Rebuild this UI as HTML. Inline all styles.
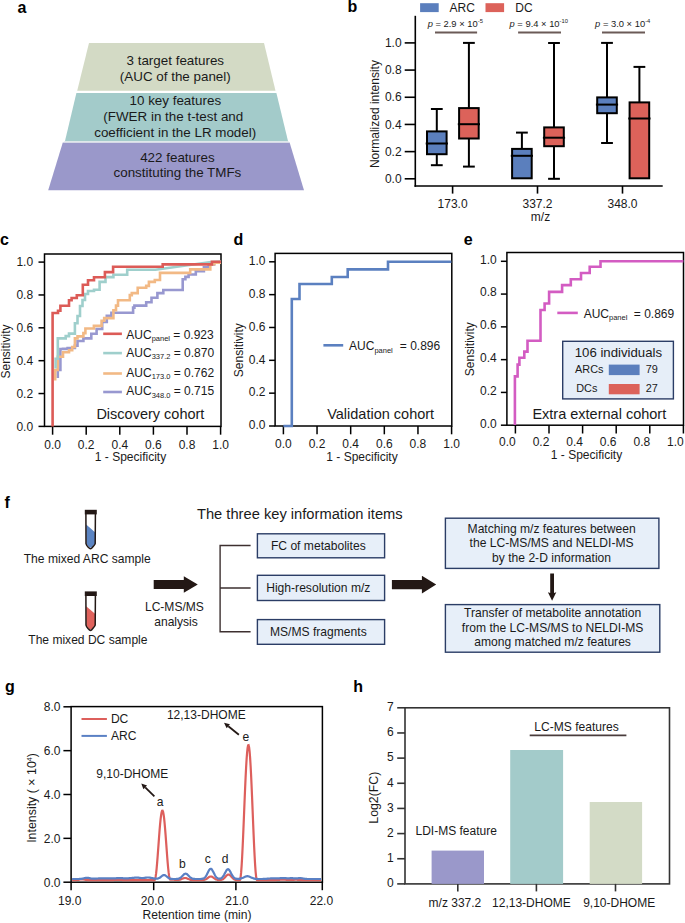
<!DOCTYPE html>
<html><head><meta charset="utf-8"><style>
html,body{margin:0;padding:0;background:#fff;}
body{width:685px;height:923px;overflow:hidden;}
svg{display:block;}
svg text{font-family:"Liberation Sans",sans-serif;}
</style></head><body>
<svg width="685" height="923" viewBox="0 0 685 923">
<rect width="685" height="923" fill="#fff"/>
<text x="17.5" y="12.7" font-size="16" text-anchor="start" font-weight="bold" fill="#000" >a</text>
<text x="347.5" y="12.3" font-size="16" text-anchor="start" font-weight="bold" fill="#000" >b</text>
<text x="0" y="245.1" font-size="16" text-anchor="start" font-weight="bold" fill="#000" >c</text>
<text x="233.4" y="245.1" font-size="16" text-anchor="start" font-weight="bold" fill="#000" >d</text>
<text x="463.8" y="245.1" font-size="16" text-anchor="start" font-weight="bold" fill="#000" >e</text>
<text x="4.4" y="507.5" font-size="16" text-anchor="start" font-weight="bold" fill="#000" >f</text>
<text x="4.9" y="691.9" font-size="16" text-anchor="start" font-weight="bold" fill="#000" >g</text>
<text x="353.3" y="691.5" font-size="16" text-anchor="start" font-weight="bold" fill="#000" >h</text>
<polygon points="89,43 264,43 275.5,90.7 77.2,90.7" fill="#d3dac5"/>
<polygon points="76.4,93 276.4,93 288,141 65,141" fill="#a3cbca"/>
<polygon points="62.8,142.6 289.6,142.6 304,190.2 48.2,190.2" fill="#9a98ca"/>
<polygon points="65,141 288,141 289.6,142.6 62.8,142.6" fill="#dfe8ea"/>
<text x="175.3" y="64.8" font-size="13.4" text-anchor="middle" font-weight="normal" fill="#1a1a1a" >3 target features</text>
<text x="175.3" y="80.8" font-size="13.4" text-anchor="middle" font-weight="normal" fill="#1a1a1a" >(AUC of the panel)</text>
<text x="175.3" y="105.1" font-size="13.4" text-anchor="middle" font-weight="normal" fill="#1a1a1a" >10 key features</text>
<text x="173.3" y="121.1" font-size="13.4" text-anchor="middle" font-weight="normal" fill="#1a1a1a" >(FWER in the t-test and</text>
<text x="175.2" y="136.8" font-size="13.4" text-anchor="middle" font-weight="normal" fill="#1a1a1a" >coefficient in the LR model)</text>
<text x="177.4" y="161.7" font-size="13.4" text-anchor="middle" font-weight="normal" fill="#1a1a1a" >422 features</text>
<text x="177.4" y="177.4" font-size="13.4" text-anchor="middle" font-weight="normal" fill="#1a1a1a" >constituting the TMFs</text>
<rect x="420.1" y="3.2" width="18.6" height="8.9" fill="#5b7fbd"/>
<text x="449.6" y="12" font-size="12" text-anchor="start" font-weight="normal" fill="#1a1a1a" >ARC</text>
<rect x="485.5" y="3.2" width="18.6" height="8.9" fill="#dc625a"/>
<text x="515.3" y="12" font-size="12" text-anchor="start" font-weight="normal" fill="#1a1a1a" >DC</text>
<line x1="415.3" y1="15.8" x2="415.3" y2="186.8" stroke="#000" stroke-width="1.6" />
<line x1="414.5" y1="186" x2="662.7" y2="186" stroke="#000" stroke-width="1.6" />
<line x1="404.7" y1="178.8" x2="415.3" y2="178.8" stroke="#000" stroke-width="1.6" />
<text x="401.6" y="183.0" font-size="12" text-anchor="end" font-weight="normal" fill="#1a1a1a" >0.0</text>
<line x1="404.7" y1="151.62" x2="415.3" y2="151.62" stroke="#000" stroke-width="1.6" />
<text x="401.6" y="155.82" font-size="12" text-anchor="end" font-weight="normal" fill="#1a1a1a" >0.2</text>
<line x1="404.7" y1="124.44" x2="415.3" y2="124.44" stroke="#000" stroke-width="1.6" />
<text x="401.6" y="128.64" font-size="12" text-anchor="end" font-weight="normal" fill="#1a1a1a" >0.4</text>
<line x1="404.7" y1="97.26" x2="415.3" y2="97.26" stroke="#000" stroke-width="1.6" />
<text x="401.6" y="101.46000000000001" font-size="12" text-anchor="end" font-weight="normal" fill="#1a1a1a" >0.6</text>
<line x1="404.7" y1="70.08" x2="415.3" y2="70.08" stroke="#000" stroke-width="1.6" />
<text x="401.6" y="74.28" font-size="12" text-anchor="end" font-weight="normal" fill="#1a1a1a" >0.8</text>
<line x1="404.7" y1="42.900000000000006" x2="415.3" y2="42.900000000000006" stroke="#000" stroke-width="1.6" />
<text x="401.6" y="47.10000000000001" font-size="12" text-anchor="end" font-weight="normal" fill="#1a1a1a" >1.0</text>
<line x1="452.6" y1="186" x2="452.6" y2="193.6" stroke="#000" stroke-width="1.6" />
<text x="452.6" y="207.9" font-size="12" text-anchor="middle" font-weight="normal" fill="#1a1a1a" >173.0</text>
<line x1="537.5" y1="186" x2="537.5" y2="193.6" stroke="#000" stroke-width="1.6" />
<text x="537.5" y="207.9" font-size="12" text-anchor="middle" font-weight="normal" fill="#1a1a1a" >337.2</text>
<line x1="622.5" y1="186" x2="622.5" y2="193.6" stroke="#000" stroke-width="1.6" />
<text x="622.5" y="207.9" font-size="12" text-anchor="middle" font-weight="normal" fill="#1a1a1a" >348.0</text>
<text x="540.5" y="221.4" font-size="12" text-anchor="middle" font-weight="normal" fill="#1a1a1a" >m/z</text>
<text x="0" y="0" font-size="12" text-anchor="middle" fill="#1a1a1a" transform="translate(378.7,114.1) rotate(-90)">Normalized intensity</text>
<line x1="435" y1="32.6" x2="477.1" y2="32.6" stroke="#6b5a57" stroke-width="2" />
<text x="455.25" y="27.1" font-size="9.4" text-anchor="middle" fill="#1a1a1a"><tspan font-style="italic">p</tspan> = 2.9 × 10<tspan font-size="5.8" dy="-4.2">-5</tspan></text>
<line x1="518.1" y1="32.6" x2="561" y2="32.6" stroke="#6b5a57" stroke-width="2" />
<text x="538.75" y="27.1" font-size="9.4" text-anchor="middle" fill="#1a1a1a"><tspan font-style="italic">p</tspan> = 9.4 × 10<tspan font-size="5.8" dy="-4.2">-10</tspan></text>
<line x1="602" y1="32.6" x2="645" y2="32.6" stroke="#6b5a57" stroke-width="2" />
<text x="622.7" y="27.1" font-size="9.4" text-anchor="middle" fill="#1a1a1a"><tspan font-style="italic">p</tspan> = 3.0 × 10<tspan font-size="5.8" dy="-4.2">-4</tspan></text>
<line x1="436.8" y1="109" x2="436.8" y2="131.4" stroke="#000" stroke-width="2" />
<line x1="430.90000000000003" y1="109" x2="442.7" y2="109" stroke="#000" stroke-width="2" />
<line x1="436.8" y1="154.2" x2="436.8" y2="165.2" stroke="#000" stroke-width="2" />
<line x1="430.90000000000003" y1="165.2" x2="442.7" y2="165.2" stroke="#000" stroke-width="2" />
<rect x="427.0" y="131.4" width="19.6" height="22.799999999999983" fill="#5b7fbd" stroke="#000" stroke-width="2"/>
<line x1="425.7" y1="143.5" x2="447.90000000000003" y2="143.5" stroke="#000" stroke-width="2" />
<line x1="468.9" y1="42.9" x2="468.9" y2="108.1" stroke="#000" stroke-width="2" />
<line x1="463.0" y1="42.9" x2="474.79999999999995" y2="42.9" stroke="#000" stroke-width="2" />
<line x1="468.9" y1="138.5" x2="468.9" y2="166.6" stroke="#000" stroke-width="2" />
<line x1="463.0" y1="166.6" x2="474.79999999999995" y2="166.6" stroke="#000" stroke-width="2" />
<rect x="459.09999999999997" y="108.1" width="19.6" height="30.400000000000006" fill="#dc625a" stroke="#000" stroke-width="2"/>
<line x1="457.79999999999995" y1="124.2" x2="480.0" y2="124.2" stroke="#000" stroke-width="2" />
<line x1="521.9" y1="132.6" x2="521.9" y2="148.9" stroke="#000" stroke-width="2" />
<line x1="516.0" y1="132.6" x2="527.8" y2="132.6" stroke="#000" stroke-width="2" />
<rect x="512.1" y="148.9" width="19.6" height="29.400000000000006" fill="#5b7fbd" stroke="#000" stroke-width="2"/>
<line x1="510.8" y1="155.8" x2="532.9999999999999" y2="155.8" stroke="#000" stroke-width="2" />
<line x1="554.0" y1="43" x2="554.0" y2="127.4" stroke="#000" stroke-width="2" />
<line x1="548.1" y1="43" x2="559.9" y2="43" stroke="#000" stroke-width="2" />
<line x1="554.0" y1="146.2" x2="554.0" y2="178.8" stroke="#000" stroke-width="2" />
<line x1="548.1" y1="178.8" x2="559.9" y2="178.8" stroke="#000" stroke-width="2" />
<rect x="544.2" y="127.4" width="19.6" height="18.799999999999983" fill="#dc625a" stroke="#000" stroke-width="2"/>
<line x1="542.9000000000001" y1="137.7" x2="565.0999999999999" y2="137.7" stroke="#000" stroke-width="2" />
<line x1="607.0" y1="42.9" x2="607.0" y2="97.4" stroke="#000" stroke-width="2" />
<line x1="601.1" y1="42.9" x2="612.9" y2="42.9" stroke="#000" stroke-width="2" />
<line x1="607.0" y1="113.2" x2="607.0" y2="143" stroke="#000" stroke-width="2" />
<line x1="601.1" y1="143" x2="612.9" y2="143" stroke="#000" stroke-width="2" />
<rect x="597.2" y="97.4" width="19.6" height="15.799999999999997" fill="#5b7fbd" stroke="#000" stroke-width="2"/>
<line x1="595.9000000000001" y1="104.6" x2="618.0999999999999" y2="104.6" stroke="#000" stroke-width="2" />
<line x1="639.4" y1="66.9" x2="639.4" y2="102.4" stroke="#000" stroke-width="2" />
<line x1="633.5" y1="66.9" x2="645.3" y2="66.9" stroke="#000" stroke-width="2" />
<rect x="629.6" y="102.4" width="19.6" height="75.9" fill="#dc625a" stroke="#000" stroke-width="2"/>
<line x1="628.3000000000001" y1="118.5" x2="650.4999999999999" y2="118.5" stroke="#000" stroke-width="2" />
<rect x="44.5" y="254" width="176.5" height="172.39999999999998" fill="none" stroke="#000" stroke-width="1.5"/>
<line x1="38.5" y1="426.4" x2="44.5" y2="426.4" stroke="#000" stroke-width="1.5" />
<text x="33.1" y="430.7" font-size="12" text-anchor="end" font-weight="normal" fill="#1a1a1a" >0.0</text>
<line x1="38.5" y1="393.53999999999996" x2="44.5" y2="393.53999999999996" stroke="#000" stroke-width="1.5" />
<text x="33.1" y="397.84" font-size="12" text-anchor="end" font-weight="normal" fill="#1a1a1a" >0.2</text>
<line x1="38.5" y1="360.68" x2="44.5" y2="360.68" stroke="#000" stroke-width="1.5" />
<text x="33.1" y="364.98" font-size="12" text-anchor="end" font-weight="normal" fill="#1a1a1a" >0.4</text>
<line x1="38.5" y1="327.82" x2="44.5" y2="327.82" stroke="#000" stroke-width="1.5" />
<text x="33.1" y="332.12" font-size="12" text-anchor="end" font-weight="normal" fill="#1a1a1a" >0.6</text>
<line x1="38.5" y1="294.96000000000004" x2="44.5" y2="294.96000000000004" stroke="#000" stroke-width="1.5" />
<text x="33.1" y="299.26000000000005" font-size="12" text-anchor="end" font-weight="normal" fill="#1a1a1a" >0.8</text>
<line x1="38.5" y1="262.1" x2="44.5" y2="262.1" stroke="#000" stroke-width="1.5" />
<text x="33.1" y="266.40000000000003" font-size="12" text-anchor="end" font-weight="normal" fill="#1a1a1a" >1.0</text>
<line x1="52.6" y1="426.4" x2="52.6" y2="434.7" stroke="#000" stroke-width="1.5" />
<text x="52.6" y="448.59999999999997" font-size="12" text-anchor="middle" font-weight="normal" fill="#1a1a1a" >0.0</text>
<line x1="86.2" y1="426.4" x2="86.2" y2="434.7" stroke="#000" stroke-width="1.5" />
<text x="86.2" y="448.59999999999997" font-size="12" text-anchor="middle" font-weight="normal" fill="#1a1a1a" >0.2</text>
<line x1="119.80000000000001" y1="426.4" x2="119.80000000000001" y2="434.7" stroke="#000" stroke-width="1.5" />
<text x="119.80000000000001" y="448.59999999999997" font-size="12" text-anchor="middle" font-weight="normal" fill="#1a1a1a" >0.4</text>
<line x1="153.4" y1="426.4" x2="153.4" y2="434.7" stroke="#000" stroke-width="1.5" />
<text x="153.4" y="448.59999999999997" font-size="12" text-anchor="middle" font-weight="normal" fill="#1a1a1a" >0.6</text>
<line x1="187.0" y1="426.4" x2="187.0" y2="434.7" stroke="#000" stroke-width="1.5" />
<text x="187.0" y="448.59999999999997" font-size="12" text-anchor="middle" font-weight="normal" fill="#1a1a1a" >0.8</text>
<line x1="220.6" y1="426.4" x2="220.6" y2="434.7" stroke="#000" stroke-width="1.5" />
<text x="220.6" y="448.59999999999997" font-size="12" text-anchor="middle" font-weight="normal" fill="#1a1a1a" >1.0</text>
<text x="0" y="0" font-size="12" text-anchor="middle" fill="#1a1a1a" transform="translate(10.4,351.5) rotate(-90)">Sensitivity</text>
<text x="96.4" y="419.2" font-size="14.5" text-anchor="start" font-weight="normal" fill="#1a1a1a" >Discovery cohort</text>
<text x="94.8" y="461.2" font-size="12" text-anchor="start" font-weight="normal" fill="#1a1a1a" >1 - Specificity</text>
<polyline points="57.8,378.0 57.8,370.0 60.4,370.0 60.4,349.0 63.0,349.0 63.0,348.9 67.6,348.9 67.6,348.0 74.9,348.0 74.9,345.6 77.5,345.6 77.5,341.0 83.4,341.0 83.4,338.4 91.3,338.4 91.3,333.8 96.6,333.8 96.6,329.0 102.2,329.0 102.2,322.0 106.8,322.0 106.8,315.7 111.4,315.7 111.4,312.8 133.1,312.8 133.1,307.6 134.4,307.6 134.4,305.6 146.2,305.6 146.2,302.3 151.5,302.3 151.5,297.7 157.4,297.7 157.4,293.1 163.3,293.1 163.3,290.0 182.7,290.0 182.7,279.3 185.4,279.3 185.4,276.9 188.6,276.9 188.6,274.5 195.8,274.5 195.8,271.3 203.9,271.3 203.9,267.3 208.7,267.3 208.7,264.5 214.0,264.5 214.0,262.5 221.0,262.5" fill="none" stroke="#9898d0" stroke-width="2.6" stroke-linejoin="miter" />
<polyline points="55.2,380.5 55.2,370.0 57.8,370.0 57.8,356.8 63.0,356.8 63.0,352.2 69.0,352.2 69.0,350.2 72.2,350.2 72.2,347.0 74.9,347.0 74.9,338.4 77.5,338.4 77.5,336.4 83.4,336.4 83.4,333.1 85.4,333.1 85.4,328.5 93.9,328.5 93.9,325.9 101.6,325.9 101.6,320.7 104.2,320.7 104.2,318.1 113.4,318.1 113.4,310.2 116.0,310.2 116.0,305.6 118.0,305.6 118.0,300.3 129.8,300.3 129.8,295.1 131.8,295.1 131.8,293.1 137.7,293.1 137.7,287.8 146.2,287.8 146.2,285.9 148.9,285.9 148.9,281.9 154.8,281.9 154.8,280.0 160.0,280.0 160.0,272.9 190.2,272.9 190.2,269.4 210.3,269.4 210.3,264.1 214.3,264.1 214.3,262.8 221.0,262.8" fill="none" stroke="#f2b985" stroke-width="2.6" stroke-linejoin="miter" />
<polyline points="55.6,368.6 55.6,358.8 57.8,358.8 57.8,338.4 65.7,338.4 65.7,336.1 69.0,336.1 69.0,333.6 74.9,333.6 74.9,323.3 77.5,323.3 77.5,316.0 80.0,316.0 80.0,306.0 82.5,306.0 82.5,300.0 85.0,300.0 85.0,294.0 88.0,294.0 88.0,291.0 94.0,291.0 94.0,289.8 99.6,289.8 99.6,281.9 105.5,281.9 105.5,277.1 113.4,277.1 113.4,274.7 127.2,274.7 127.2,269.7 155.4,269.7 211.0,262.0 221.0,261.5" fill="none" stroke="#9fcfcc" stroke-width="2.6" stroke-linejoin="miter" />
<polyline points="52.6,426.4 52.6,313.0 58.0,313.0 58.0,310.7 60.4,310.7 60.4,305.8 69.0,305.8 69.0,300.2 71.6,300.2 71.6,298.0 76.8,298.0 76.8,295.3 82.8,295.3 82.8,284.8 88.0,284.8 88.0,280.2 94.0,280.2 94.0,277.2 104.9,277.2 104.9,272.1 113.1,272.1 113.1,266.8 162.7,266.8 162.7,264.4 211.9,264.4 211.9,261.7 221.0,261.7" fill="none" stroke="#dc5b57" stroke-width="2.6" stroke-linejoin="miter" />
<line x1="103.2" y1="333.8" x2="121.9" y2="333.8" stroke="#dc5b57" stroke-width="2.6" />
<text x="126.3" y="338.6" font-size="12" fill="#1a1a1a">AUC<tspan font-size="7.5" dy="2.8">panel</tspan><tspan dy="-2.8"> = 0.923</tspan></text>
<line x1="103.2" y1="353.1" x2="121.9" y2="353.1" stroke="#9fcfcc" stroke-width="2.6" />
<text x="126.3" y="356.6" font-size="12" fill="#1a1a1a">AUC<tspan font-size="7.5" dy="2.8">337.2</tspan><tspan dy="-2.8"> = 0.870</tspan></text>
<line x1="103.2" y1="373.5" x2="121.9" y2="373.5" stroke="#f2b985" stroke-width="2.6" />
<text x="126.3" y="376.5" font-size="12" fill="#1a1a1a">AUC<tspan font-size="7.5" dy="2.8">173.0</tspan><tspan dy="-2.8"> = 0.762</tspan></text>
<line x1="103.2" y1="392.0" x2="121.9" y2="392.0" stroke="#9898d0" stroke-width="2.6" />
<text x="126.3" y="394.7" font-size="12" fill="#1a1a1a">AUC<tspan font-size="7.5" dy="2.8">348.0</tspan><tspan dy="-2.8"> = 0.715</tspan></text>
<rect x="275.1" y="253.4" width="176.7" height="172.6" fill="none" stroke="#000" stroke-width="1.5"/>
<line x1="269.1" y1="426.0" x2="275.1" y2="426.0" stroke="#000" stroke-width="1.5" />
<text x="265.5" y="429.3" font-size="12" text-anchor="end" font-weight="normal" fill="#1a1a1a" >0.0</text>
<line x1="269.1" y1="393.16" x2="275.1" y2="393.16" stroke="#000" stroke-width="1.5" />
<text x="265.5" y="396.46000000000004" font-size="12" text-anchor="end" font-weight="normal" fill="#1a1a1a" >0.2</text>
<line x1="269.1" y1="360.32" x2="275.1" y2="360.32" stroke="#000" stroke-width="1.5" />
<text x="265.5" y="363.62" font-size="12" text-anchor="end" font-weight="normal" fill="#1a1a1a" >0.4</text>
<line x1="269.1" y1="327.48" x2="275.1" y2="327.48" stroke="#000" stroke-width="1.5" />
<text x="265.5" y="330.78000000000003" font-size="12" text-anchor="end" font-weight="normal" fill="#1a1a1a" >0.6</text>
<line x1="269.1" y1="294.64" x2="275.1" y2="294.64" stroke="#000" stroke-width="1.5" />
<text x="265.5" y="297.94" font-size="12" text-anchor="end" font-weight="normal" fill="#1a1a1a" >0.8</text>
<line x1="269.1" y1="261.8" x2="275.1" y2="261.8" stroke="#000" stroke-width="1.5" />
<text x="265.5" y="265.1" font-size="12" text-anchor="end" font-weight="normal" fill="#1a1a1a" >1.0</text>
<line x1="283.4" y1="426" x2="283.4" y2="434.3" stroke="#000" stroke-width="1.5" />
<text x="283.4" y="448.2" font-size="12" text-anchor="middle" font-weight="normal" fill="#1a1a1a" >0.0</text>
<line x1="317.03999999999996" y1="426" x2="317.03999999999996" y2="434.3" stroke="#000" stroke-width="1.5" />
<text x="317.03999999999996" y="448.2" font-size="12" text-anchor="middle" font-weight="normal" fill="#1a1a1a" >0.2</text>
<line x1="350.68" y1="426" x2="350.68" y2="434.3" stroke="#000" stroke-width="1.5" />
<text x="350.68" y="448.2" font-size="12" text-anchor="middle" font-weight="normal" fill="#1a1a1a" >0.4</text>
<line x1="384.32000000000005" y1="426" x2="384.32000000000005" y2="434.3" stroke="#000" stroke-width="1.5" />
<text x="384.32000000000005" y="448.2" font-size="12" text-anchor="middle" font-weight="normal" fill="#1a1a1a" >0.6</text>
<line x1="417.96000000000004" y1="426" x2="417.96000000000004" y2="434.3" stroke="#000" stroke-width="1.5" />
<text x="417.96000000000004" y="448.2" font-size="12" text-anchor="middle" font-weight="normal" fill="#1a1a1a" >0.8</text>
<line x1="451.6" y1="426" x2="451.6" y2="434.3" stroke="#000" stroke-width="1.5" />
<text x="451.6" y="448.2" font-size="12" text-anchor="middle" font-weight="normal" fill="#1a1a1a" >1.0</text>
<text x="0" y="0" font-size="12" text-anchor="middle" fill="#1a1a1a" transform="translate(242.6,350.2) rotate(-90)">Sensitivity</text>
<text x="327.2" y="419.2" font-size="14.5" text-anchor="start" font-weight="normal" fill="#1a1a1a" >Validation cohort</text>
<text x="326.3" y="460.8" font-size="12" text-anchor="start" font-weight="normal" fill="#1a1a1a" >1 - Specificity</text>
<polyline points="283.4,426.0 291.8,426.0 291.8,299.0 299.5,299.0 299.5,284.0 331.8,284.0 331.8,277.0 347.7,277.0 347.7,269.4 388.0,269.4 388.0,261.8 451.4,261.8" fill="none" stroke="#5b80c0" stroke-width="2.6" stroke-linejoin="miter" />
<line x1="323.4" y1="345.3" x2="343.2" y2="345.3" stroke="#5b80c0" stroke-width="2.6" />
<text x="349.1" y="349.9" font-size="12" fill="#1a1a1a">AUC<tspan font-size="7.5" dy="2.8">panel</tspan></text>
<text x="440.2" y="349.9" font-size="12" text-anchor="end" font-weight="normal" fill="#1a1a1a" >= 0.896</text>
<rect x="506.9" y="252.5" width="176.60000000000002" height="172.7" fill="none" stroke="#000" stroke-width="1.5"/>
<line x1="500.9" y1="425.2" x2="506.9" y2="425.2" stroke="#000" stroke-width="1.5" />
<text x="496.79999999999995" y="427.5" font-size="12" text-anchor="end" font-weight="normal" fill="#1a1a1a" >0.0</text>
<line x1="500.9" y1="392.42" x2="506.9" y2="392.42" stroke="#000" stroke-width="1.5" />
<text x="496.79999999999995" y="394.72" font-size="12" text-anchor="end" font-weight="normal" fill="#1a1a1a" >0.2</text>
<line x1="500.9" y1="359.64" x2="506.9" y2="359.64" stroke="#000" stroke-width="1.5" />
<text x="496.79999999999995" y="361.94" font-size="12" text-anchor="end" font-weight="normal" fill="#1a1a1a" >0.4</text>
<line x1="500.9" y1="326.86" x2="506.9" y2="326.86" stroke="#000" stroke-width="1.5" />
<text x="496.79999999999995" y="329.16" font-size="12" text-anchor="end" font-weight="normal" fill="#1a1a1a" >0.6</text>
<line x1="500.9" y1="294.08000000000004" x2="506.9" y2="294.08000000000004" stroke="#000" stroke-width="1.5" />
<text x="496.79999999999995" y="296.38000000000005" font-size="12" text-anchor="end" font-weight="normal" fill="#1a1a1a" >0.8</text>
<line x1="500.9" y1="261.3" x2="506.9" y2="261.3" stroke="#000" stroke-width="1.5" />
<text x="496.79999999999995" y="263.6" font-size="12" text-anchor="end" font-weight="normal" fill="#1a1a1a" >1.0</text>
<line x1="515.4" y1="425.2" x2="515.4" y2="433.5" stroke="#000" stroke-width="1.5" />
<text x="507.4" y="446.09999999999997" font-size="12" text-anchor="middle" font-weight="normal" fill="#1a1a1a" >0.0</text>
<line x1="549.0" y1="425.2" x2="549.0" y2="433.5" stroke="#000" stroke-width="1.5" />
<text x="541.0" y="446.09999999999997" font-size="12" text-anchor="middle" font-weight="normal" fill="#1a1a1a" >0.2</text>
<line x1="582.6" y1="425.2" x2="582.6" y2="433.5" stroke="#000" stroke-width="1.5" />
<text x="574.6" y="446.09999999999997" font-size="12" text-anchor="middle" font-weight="normal" fill="#1a1a1a" >0.4</text>
<line x1="616.2" y1="425.2" x2="616.2" y2="433.5" stroke="#000" stroke-width="1.5" />
<text x="608.2" y="446.09999999999997" font-size="12" text-anchor="middle" font-weight="normal" fill="#1a1a1a" >0.6</text>
<line x1="649.8" y1="425.2" x2="649.8" y2="433.5" stroke="#000" stroke-width="1.5" />
<text x="641.8" y="446.09999999999997" font-size="12" text-anchor="middle" font-weight="normal" fill="#1a1a1a" >0.8</text>
<line x1="683.4" y1="425.2" x2="683.4" y2="433.5" stroke="#000" stroke-width="1.5" />
<text x="675.4" y="446.09999999999997" font-size="12" text-anchor="middle" font-weight="normal" fill="#1a1a1a" >1.0</text>
<text x="0" y="0" font-size="12" text-anchor="middle" fill="#1a1a1a" transform="translate(474.3,349.2) rotate(-90)">Sensitivity</text>
<text x="532.4" y="419.2" font-size="14.5" text-anchor="start" font-weight="normal" fill="#1a1a1a" >Extra external cohort</text>
<text x="550.8" y="459.09999999999997" font-size="12" text-anchor="start" font-weight="normal" fill="#1a1a1a" >1 - Specificity</text>
<polyline points="514.9,425.1 514.9,376.4 517.6,376.4 517.6,364.6 519.4,364.6 519.4,357.8 524.3,357.8 524.3,351.6 527.5,351.6 527.5,340.8 540.5,340.8 540.5,310.0 544.6,310.0 544.6,303.5 549.1,303.5 549.1,291.9 562.1,291.9 562.1,285.1 570.8,285.1 570.8,279.2 581.0,279.2 581.0,273.0 589.7,273.0 589.7,266.7 600.5,266.7 600.5,261.3 683.4,261.3" fill="none" stroke="#d35cc2" stroke-width="2.6" stroke-linejoin="miter" />
<line x1="557.3" y1="312.9" x2="577.8" y2="312.9" stroke="#d35cc2" stroke-width="2.6" />
<text x="583.7" y="317.5" font-size="12" fill="#1a1a1a">AUC<tspan font-size="7.5" dy="2.8">panel</tspan></text>
<text x="674.2" y="317.5" font-size="12" text-anchor="end" font-weight="normal" fill="#1a1a1a" >= 0.869</text>
<rect x="562.7" y="341.3" width="110.7" height="57.6" fill="#e6eef8" stroke="#2b3d66" stroke-width="1.4"/>
<text x="618.4" y="357.3" font-size="13.2" text-anchor="middle" font-weight="normal" fill="#1a1a1a" >106 individuals</text>
<text x="575" y="373.2" font-size="10.9" text-anchor="start" font-weight="normal" fill="#1a1a1a" >ARCs</text>
<text x="576.2" y="391.6" font-size="10.9" text-anchor="start" font-weight="normal" fill="#1a1a1a" >DCs</text>
<rect x="608.8" y="364.6" width="30.8" height="10.5" fill="#5b7fbd"/>
<rect x="608.8" y="384" width="30.8" height="10.3" fill="#dc625a"/>
<text x="645.8" y="373.2" font-size="10.9" text-anchor="start" font-weight="normal" fill="#1a1a1a" >79</text>
<text x="645.8" y="391.6" font-size="10.9" text-anchor="start" font-weight="normal" fill="#1a1a1a" >27</text>
<path d="M86.2,524.6 L95,532.2 L95,543.6 L92.6,546.8 Q90.6,548.9 88.6,546.8 L86.2,543.6 Z" fill="#5b84c2"/>
<path d="M85.9,514.0 L86,543.6 Q86.3,545.0 88,547.0 L89.4,548.3 Q90.5,549.3 91.6,548.3 L93.4,546.2 Q95,544.6 95.2,543.6 L95.4,514.0" fill="none" stroke="#231815" stroke-width="1.5"/>
<rect x="84.8" y="509.8" width="12" height="4.6" fill="#231815"/>
<path d="M86.2,606.2 L95,613.8 L95,625.2 L92.6,628.3999999999999 Q90.6,630.5 88.6,628.3999999999999 L86.2,625.2 Z" fill="#df625c"/>
<path d="M85.9,595.5999999999999 L86,625.2 Q86.3,626.5999999999999 88,628.5999999999999 L89.4,629.8999999999999 Q90.5,630.8999999999999 91.6,629.8999999999999 L93.4,627.8 Q95,626.2 95.2,625.2 L95.4,595.5999999999999" fill="none" stroke="#231815" stroke-width="1.5"/>
<rect x="84.8" y="591.4" width="12" height="4.6" fill="#231815"/>
<text x="23.7" y="562.9" font-size="12.1" text-anchor="start" font-weight="normal" fill="#1a1a1a" >The mixed ARC sample</text>
<text x="28.3" y="644.1" font-size="12.05" text-anchor="start" font-weight="normal" fill="#1a1a1a" >The mixed DC sample</text>
<path d="M153.7,580.1 L183.8,580.1 L183.8,576.2 L197.8,584.5 L183.8,592.8 L183.8,588.9 L153.7,588.9 Z" fill="#231815"/>
<text x="174.4" y="610.8" font-size="12.05" text-anchor="middle" font-weight="normal" fill="#1a1a1a" >LC-MS/MS</text>
<text x="176" y="625.9" font-size="12.05" text-anchor="middle" font-weight="normal" fill="#1a1a1a" >analysis</text>
<text x="299.8" y="518.5" font-size="14.7" text-anchor="middle" font-weight="normal" fill="#1a1a1a" >The three key information items</text>
<path d="M250.6,545.5 L220.1,545.5 L220.1,631.8 L250.6,631.8 M220.1,588 L250.6,588" fill="none" stroke="#3d3030" stroke-width="1.4"/>
<rect x="257.4" y="533.8" width="127.2" height="24.0" fill="#e7eff9" stroke="#2b3d66" stroke-width="1.4"/>
<text x="318.3" y="550.0999999999999" font-size="12.1" text-anchor="middle" font-weight="normal" fill="#1a1a1a" >FC of metabolites</text>
<rect x="257.4" y="575.3" width="127.2" height="25.200000000000045" fill="#e7eff9" stroke="#2b3d66" stroke-width="1.4"/>
<text x="318.3" y="592.1999999999999" font-size="12.1" text-anchor="middle" font-weight="normal" fill="#1a1a1a" >High-resolution m/z</text>
<rect x="257.4" y="619.6" width="127.2" height="24.699999999999932" fill="#e7eff9" stroke="#2b3d66" stroke-width="1.4"/>
<text x="318.3" y="636.25" font-size="12.1" text-anchor="middle" font-weight="normal" fill="#1a1a1a" >MS/MS fragments</text>
<path d="M391.9,579.9 L421.9,579.9 L421.9,575.8000000000001 L436.2,584.6 L421.9,593.4 L421.9,589.3000000000001 L391.9,589.3000000000001 Z" fill="#231815"/>
<rect x="445.4" y="518.2" width="213.5" height="50.2" fill="#e7eff9" stroke="#2b3d66" stroke-width="1.4"/>
<rect x="445.4" y="604.6" width="214.4" height="47.6" fill="#e7eff9" stroke="#2b3d66" stroke-width="1.4"/>
<text x="551.6" y="532.7" font-size="12.1" text-anchor="middle" font-weight="normal" fill="#1a1a1a" >Matching m/z features between</text>
<text x="551.6" y="547.3" font-size="12.1" text-anchor="middle" font-weight="normal" fill="#1a1a1a" >the LC-MS/MS and NELDI-MS</text>
<text x="551.6" y="561.9" font-size="12.1" text-anchor="middle" font-weight="normal" fill="#1a1a1a" >by the 2-D information</text>
<text x="552.6" y="617" font-size="12.1" text-anchor="middle" font-weight="normal" fill="#1a1a1a" >Transfer of metabolite annotation</text>
<text x="552.6" y="631.5" font-size="12.1" text-anchor="middle" font-weight="normal" fill="#1a1a1a" >from the LC-MS/MS to NELDI-MS</text>
<text x="552.6" y="646.2" font-size="12.1" text-anchor="middle" font-weight="normal" fill="#1a1a1a" >among matched m/z features</text>
<path d="M550.2,573.4 L554,573.4 L554,593 L556.3,592.2 L552.1,600.8 L547.9,592.2 L550.2,593 Z" fill="#231815"/>
<rect x="71.1" y="706.6" width="251.29999999999998" height="175.60000000000002" fill="none" stroke="#000" stroke-width="1.5"/>
<line x1="63.4" y1="882.2" x2="71.1" y2="882.2" stroke="#000" stroke-width="1.5" />
<text x="60.4" y="886.5" font-size="12" text-anchor="end" font-weight="normal" fill="#1a1a1a" >0.0</text>
<line x1="63.4" y1="838.35" x2="71.1" y2="838.35" stroke="#000" stroke-width="1.5" />
<text x="60.4" y="842.65" font-size="12" text-anchor="end" font-weight="normal" fill="#1a1a1a" >2.0</text>
<line x1="63.4" y1="794.5" x2="71.1" y2="794.5" stroke="#000" stroke-width="1.5" />
<text x="60.4" y="798.8" font-size="12" text-anchor="end" font-weight="normal" fill="#1a1a1a" >4.0</text>
<line x1="63.4" y1="750.65" x2="71.1" y2="750.65" stroke="#000" stroke-width="1.5" />
<text x="60.4" y="754.9499999999999" font-size="12" text-anchor="end" font-weight="normal" fill="#1a1a1a" >6.0</text>
<line x1="63.4" y1="706.8" x2="71.1" y2="706.8" stroke="#000" stroke-width="1.5" />
<text x="60.4" y="711.0999999999999" font-size="12" text-anchor="end" font-weight="normal" fill="#1a1a1a" >8.0</text>
<line x1="71.1" y1="882.2" x2="71.1" y2="890.2" stroke="#000" stroke-width="1.5" />
<text x="69.7" y="905" font-size="12" text-anchor="middle" font-weight="normal" fill="#1a1a1a" >19.0</text>
<line x1="153.7" y1="882.2" x2="153.7" y2="890.2" stroke="#000" stroke-width="1.5" />
<text x="152.5" y="905" font-size="12" text-anchor="middle" font-weight="normal" fill="#1a1a1a" >20.0</text>
<line x1="235.9" y1="882.2" x2="235.9" y2="890.2" stroke="#000" stroke-width="1.5" />
<text x="237" y="905" font-size="12" text-anchor="middle" font-weight="normal" fill="#1a1a1a" >21.0</text>
<line x1="322.3" y1="882.2" x2="322.3" y2="890.2" stroke="#000" stroke-width="1.5" />
<text x="321.4" y="905" font-size="12" text-anchor="middle" font-weight="normal" fill="#1a1a1a" >22.0</text>
<text x="197" y="918.5" font-size="12.1" text-anchor="middle" font-weight="normal" fill="#1a1a1a" >Retention time (min)</text>
<text x="0" y="0" font-size="12.4" text-anchor="middle" fill="#1a1a1a" transform="translate(36,798) rotate(-90)">Intensity ( × 10<tspan font-size="7" dy="-4">4</tspan><tspan dy="4">)</tspan></text>
<polyline points="72.1,880.2 72.6,880.2 73.1,880.2 73.6,880.2 74.1,880.2 74.6,880.2 75.1,880.1 75.6,880.1 76.1,880.1 76.6,880.0 77.1,880.0 77.6,879.9 78.1,879.9 78.6,879.8 79.1,879.7 79.6,879.6 80.1,879.5 80.6,879.5 81.1,879.4 81.6,879.4 82.1,879.4 82.6,879.4 83.1,879.5 83.6,879.5 84.1,879.6 84.6,879.7 85.1,879.7 85.6,879.8 86.1,879.9 86.6,880.0 87.1,880.0 87.6,880.1 88.1,880.1 88.6,880.1 89.1,880.2 89.6,880.2 90.1,880.2 90.6,880.2 91.1,880.2 91.6,880.2 92.1,880.2 92.6,880.2 93.1,880.2 93.6,880.2 94.1,880.2 94.6,880.2 95.1,880.2 95.6,880.2 96.1,880.2 96.6,880.2 97.1,880.2 97.6,880.2 98.1,880.2 98.6,880.2 99.1,880.2 99.6,880.2 100.1,880.2 100.6,880.2 101.1,880.2 101.6,880.2 102.1,880.2 102.6,880.2 103.1,880.2 103.6,880.2 104.1,880.2 104.6,880.2 105.1,880.2 105.6,880.2 106.1,880.2 106.6,880.2 107.1,880.2 107.6,880.2 108.1,880.2 108.6,880.2 109.1,880.2 109.6,880.2 110.1,880.2 110.6,880.2 111.1,880.2 111.6,880.2 112.1,880.1 112.6,880.1 113.1,880.1 113.6,880.1 114.1,880.0 114.6,880.0 115.1,879.9 115.6,879.9 116.1,879.9 116.6,879.8 117.1,879.8 117.6,879.8 118.1,879.8 118.6,879.8 119.1,879.8 119.6,879.9 120.1,879.9 120.6,879.9 121.1,880.0 121.6,880.0 122.1,880.0 122.6,880.1 123.1,880.1 123.6,880.1 124.1,880.1 124.6,880.2 125.1,880.2 125.6,880.2 126.1,880.2 126.6,880.2 127.1,880.2 127.6,880.2 128.1,880.2 128.6,880.2 129.1,880.2 129.6,880.2 130.1,880.2 130.6,880.2 131.1,880.2 131.6,880.2 132.1,880.2 132.6,880.2 133.1,880.2 133.6,880.2 134.1,880.2 134.6,880.2 135.1,880.2 135.6,880.2 136.1,880.2 136.6,880.2 137.1,880.2 137.6,880.2 138.1,880.2 138.6,880.2 139.1,880.2 139.6,880.2 140.1,880.2 140.6,880.2 141.1,880.2 141.6,880.2 142.1,880.2 142.6,880.2 143.1,880.2 143.6,880.2 144.1,880.2 144.6,880.2 145.1,880.2 145.6,880.2 146.1,880.2 146.6,880.2 147.1,880.2 147.6,880.2 148.1,880.2 148.6,880.2 149.1,880.2 149.6,880.2 150.1,880.2 150.6,880.2 151.1,880.2 151.6,880.2 152.1,880.2 152.6,880.2 153.1,880.2 153.6,880.2 154.1,880.2 154.6,880.2 155.1,879.2 155.6,876.9 156.1,873.4 156.6,868.8 157.1,863.2 157.6,856.9 158.1,850.2 158.6,843.3 159.1,836.5 159.6,830.0 160.1,824.2 160.6,819.1 161.1,815.1 161.6,812.3 162.1,810.8 162.6,810.7 163.1,811.9 163.6,814.5 164.1,818.2 164.6,823.1 165.1,828.8 165.6,835.1 166.1,841.9 166.6,848.7 167.1,855.5 167.6,861.8 168.1,867.5 168.6,872.2 169.1,875.9 169.6,878.4 170.1,879.6 170.6,879.7 171.1,879.6 171.6,879.6 172.1,879.6 172.6,879.6 173.1,879.6 173.6,879.7 174.1,879.7 174.6,879.8 175.1,879.8 175.6,879.9 176.1,879.9 176.6,880.0 177.1,880.0 177.6,880.0 178.1,880.0 178.6,879.9 179.1,879.8 179.6,879.7 180.1,879.6 180.6,879.4 181.1,879.2 181.6,879.0 182.1,878.8 182.6,878.6 183.1,878.4 183.6,878.2 184.1,878.1 184.6,878.0 185.1,878.0 185.6,878.0 186.1,878.1 186.6,878.3 187.1,878.5 187.6,878.7 188.1,878.9 188.6,879.1 189.1,879.3 189.6,879.5 190.1,879.7 190.6,879.8 191.1,879.9 191.6,880.0 192.1,880.1 192.6,880.1 193.1,880.1 193.6,880.2 194.1,880.2 194.6,880.2 195.1,880.2 195.6,880.2 196.1,880.2 196.6,880.2 197.1,880.2 197.6,880.2 198.1,880.2 198.6,880.2 199.1,880.2 199.6,880.2 200.1,880.2 200.6,880.2 201.1,880.2 201.6,880.2 202.1,880.1 202.6,880.1 203.1,880.1 203.6,880.0 204.1,879.9 204.6,879.8 205.1,879.6 205.6,879.4 206.1,879.1 206.6,878.8 207.1,878.5 207.6,878.1 208.1,877.7 208.6,877.4 209.1,877.0 209.6,876.8 210.1,876.6 210.6,876.5 211.1,876.5 211.6,876.6 212.1,876.8 212.6,877.1 213.1,877.4 213.6,877.8 214.1,878.2 214.6,878.5 215.1,878.9 215.6,879.2 216.1,879.4 216.6,879.6 217.1,879.8 217.6,879.9 218.1,880.0 218.6,880.0 219.1,880.1 219.6,880.1 220.1,880.1 220.6,880.0 221.1,879.9 221.6,879.8 222.1,879.6 222.6,879.4 223.1,879.1 223.6,878.7 224.1,878.3 224.6,877.8 225.1,877.2 225.6,876.6 226.1,876.1 226.6,875.5 227.1,875.1 227.6,874.8 228.1,874.6 228.6,874.5 229.1,874.6 229.6,874.9 230.1,875.3 230.6,875.7 231.1,876.3 231.6,876.9 232.1,877.4 232.6,878.0 233.1,878.4 233.6,878.9 234.1,879.2 234.6,879.5 235.1,879.7 235.6,879.9 236.1,880.0 236.6,880.1 237.1,880.1 237.6,880.1 238.1,880.2 238.6,880.2 239.1,880.2 239.6,880.2 240.1,879.8 240.6,877.3 241.1,872.7 241.6,866.1 242.1,857.7 242.6,847.8 243.1,836.7 243.6,824.9 244.1,812.6 244.6,800.3 245.1,788.5 245.6,777.4 246.1,767.5 246.6,759.1 247.1,752.5 247.6,747.9 248.1,745.4 248.6,745.2 249.1,747.2 249.6,751.4 250.1,757.6 250.6,765.7 251.1,775.3 251.6,786.2 252.1,797.9 252.6,810.1 253.1,822.4 253.6,834.4 254.1,845.7 254.6,855.8 255.1,864.6 255.6,871.6 256.1,876.6 256.6,879.5 257.1,880.2 257.6,880.2 258.1,880.2 258.6,880.2 259.1,880.2 259.6,880.2 260.1,880.2 260.6,880.2 261.1,880.2 261.6,880.2 262.1,880.2 262.6,880.2 263.1,880.2 263.6,880.2 264.1,880.2 264.6,880.2 265.1,880.2 265.6,880.2 266.1,880.2 266.6,880.2 267.1,880.2 267.6,880.2 268.1,880.2 268.6,880.2 269.1,880.2 269.6,880.2 270.1,880.2 270.6,880.2 271.1,880.2 271.6,880.2 272.1,880.2 272.6,880.2 273.1,880.2 273.6,880.2 274.1,880.1 274.6,880.1 275.1,880.1 275.6,880.1 276.1,880.1 276.6,880.0 277.1,880.0 277.6,880.0 278.1,879.9 278.6,879.9 279.1,879.8 279.6,879.8 280.1,879.7 280.6,879.7 281.1,879.7 281.6,879.6 282.1,879.6 282.6,879.6 283.1,879.6 283.6,879.6 284.1,879.6 284.6,879.6 285.1,879.7 285.6,879.7 286.1,879.8 286.6,879.8 287.1,879.8 287.6,879.9 288.1,879.9 288.6,880.0 289.1,880.0 289.6,880.0 290.1,880.0 290.6,880.0 291.1,880.0 291.6,880.0 292.1,879.9 292.6,879.9 293.1,879.9 293.6,879.8 294.1,879.8 294.6,879.7 295.1,879.7 295.6,879.7 296.1,879.7 296.6,879.7 297.1,879.7 297.6,879.8 298.1,879.8 298.6,879.9 299.1,879.9 299.6,880.0 300.1,880.0 300.6,880.0 301.1,880.1 301.6,880.1 302.1,880.1 302.6,880.2 303.1,880.2 303.6,880.2 304.1,880.2 304.6,880.2 305.1,880.2 305.6,880.2 306.1,880.2 306.6,880.2 307.1,880.2 307.6,880.2 308.1,880.2 308.6,880.2 309.1,880.2 309.6,880.2 310.1,880.2 310.6,880.2 311.1,880.2 311.6,880.2 312.1,880.2 312.6,880.2 313.1,880.2 313.6,880.2 314.1,880.2 314.6,880.2 315.1,880.2 315.6,880.2 316.1,880.2 316.6,880.2 317.1,880.2 317.6,880.2 318.1,880.2 318.6,880.2 319.1,880.2 319.6,880.2 320.1,880.2 320.6,880.2 321.1,880.2" fill="none" stroke="#dd5f5c" stroke-width="2.2" stroke-linejoin="miter" stroke-linejoin="round"/>
<polyline points="72.1,879.0 72.6,879.0 73.1,879.0 73.6,879.0 74.1,879.0 74.6,879.0 75.1,879.0 75.6,879.0 76.1,879.0 76.6,879.0 77.1,879.0 77.6,879.0 78.1,879.0 78.6,879.0 79.1,879.0 79.6,878.9 80.1,878.9 80.6,878.9 81.1,878.8 81.6,878.8 82.1,878.7 82.6,878.6 83.1,878.5 83.6,878.4 84.1,878.2 84.6,878.1 85.1,878.0 85.6,877.9 86.1,877.9 86.6,877.8 87.1,877.8 87.6,877.8 88.1,877.9 88.6,877.9 89.1,878.0 89.6,878.2 90.1,878.3 90.6,878.4 91.1,878.5 91.6,878.6 92.1,878.6 92.6,878.7 93.1,878.7 93.6,878.7 94.1,878.7 94.6,878.7 95.1,878.7 95.6,878.7 96.1,878.6 96.6,878.6 97.1,878.5 97.6,878.5 98.1,878.5 98.6,878.4 99.1,878.4 99.6,878.4 100.1,878.4 100.6,878.4 101.1,878.4 101.6,878.4 102.1,878.4 102.6,878.4 103.1,878.4 103.6,878.4 104.1,878.4 104.6,878.4 105.1,878.4 105.6,878.4 106.1,878.4 106.6,878.4 107.1,878.4 107.6,878.4 108.1,878.4 108.6,878.4 109.1,878.3 109.6,878.3 110.1,878.3 110.6,878.3 111.1,878.3 111.6,878.3 112.1,878.3 112.6,878.3 113.1,878.3 113.6,878.3 114.1,878.3 114.6,878.3 115.1,878.3 115.6,878.3 116.1,878.3 116.6,878.2 117.1,878.2 117.6,878.1 118.1,878.1 118.6,878.1 119.1,878.1 119.6,878.1 120.1,878.1 120.6,878.1 121.1,878.1 121.6,878.1 122.1,878.2 122.6,878.2 123.1,878.3 123.6,878.3 124.1,878.3 124.6,878.4 125.1,878.4 125.6,878.4 126.1,878.4 126.6,878.4 127.1,878.4 127.6,878.4 128.1,878.3 128.6,878.3 129.1,878.2 129.6,878.2 130.1,878.1 130.6,878.1 131.1,878.0 131.6,878.0 132.1,877.9 132.6,877.9 133.1,877.9 133.6,877.8 134.1,877.8 134.6,877.7 135.1,877.7 135.6,877.7 136.1,877.6 136.6,877.6 137.1,877.6 137.6,877.6 138.1,877.6 138.6,877.7 139.1,877.8 139.6,877.8 140.1,877.9 140.6,878.0 141.1,878.0 141.6,878.0 142.1,878.1 142.6,878.1 143.1,878.0 143.6,878.0 144.1,877.9 144.6,877.9 145.1,877.8 145.6,877.7 146.1,877.6 146.6,877.6 147.1,877.5 147.6,877.5 148.1,877.5 148.6,877.5 149.1,877.6 149.6,877.6 150.1,877.7 150.6,877.8 151.1,877.9 151.6,878.0 152.1,878.1 152.6,878.2 153.1,878.3 153.6,878.4 154.1,878.5 154.6,878.6 155.1,878.7 155.6,878.7 156.1,878.7 156.6,878.7 157.1,878.7 157.6,878.6 158.1,878.5 158.6,878.3 159.1,878.1 159.6,877.8 160.1,877.5 160.6,877.1 161.1,876.7 161.6,876.2 162.1,875.8 162.6,875.5 163.1,875.2 163.6,875.0 164.1,875.0 164.6,875.1 165.1,875.3 165.6,875.6 166.1,876.0 166.6,876.4 167.1,876.8 167.6,877.2 168.1,877.6 168.6,878.0 169.1,878.2 169.6,878.5 170.1,878.6 170.6,878.8 171.1,878.8 171.6,878.9 172.1,878.9 172.6,879.0 173.1,879.0 173.6,879.0 174.1,879.0 174.6,879.0 175.1,879.0 175.6,879.0 176.1,879.0 176.6,878.9 177.1,878.9 177.6,878.8 178.1,878.8 178.6,878.6 179.1,878.5 179.6,878.3 180.1,878.0 180.6,877.7 181.1,877.2 181.6,876.8 182.1,876.3 182.6,875.7 183.1,875.2 183.6,874.7 184.1,874.2 184.6,873.9 185.1,873.7 185.6,873.6 186.1,873.7 186.6,873.9 187.1,874.2 187.6,874.7 188.1,875.2 188.6,875.7 189.1,876.3 189.6,876.8 190.1,877.2 190.6,877.7 191.1,878.0 191.6,878.3 192.1,878.5 192.6,878.6 193.1,878.8 193.6,878.8 194.1,878.9 194.6,878.9 195.1,879.0 195.6,879.0 196.1,879.0 196.6,879.0 197.1,879.0 197.6,879.0 198.1,879.0 198.6,879.0 199.1,879.0 199.6,879.0 200.1,879.0 200.6,879.0 201.1,878.9 201.6,878.9 202.1,878.8 202.6,878.7 203.1,878.6 203.6,878.4 204.1,878.1 204.6,877.7 205.1,877.2 205.6,876.6 206.1,875.9 206.6,875.0 207.1,874.0 207.6,873.0 208.1,872.0 208.6,871.0 209.1,870.2 209.6,869.5 210.1,869.0 210.6,868.8 211.1,868.9 211.6,869.2 212.1,869.9 212.6,870.7 213.1,871.6 213.6,872.6 214.1,873.6 214.6,874.6 215.1,875.5 215.6,876.3 216.1,877.0 216.6,877.5 217.1,877.9 217.6,878.3 218.1,878.5 218.6,878.6 219.1,878.7 219.6,878.7 220.1,878.6 220.6,878.5 221.1,878.3 221.6,878.0 222.1,877.6 222.6,877.1 223.1,876.4 223.6,875.7 224.1,874.8 224.6,873.8 225.1,872.9 225.6,871.9 226.1,871.0 226.6,870.2 227.1,869.6 227.6,869.3 228.1,869.2 228.6,869.4 229.1,869.8 229.6,870.5 230.1,871.3 230.6,872.3 231.1,873.3 231.6,874.2 232.1,875.1 232.6,876.0 233.1,876.7 233.6,877.3 234.1,877.8 234.6,878.1 235.1,878.4 235.6,878.6 236.1,878.7 236.6,878.8 237.1,878.9 237.6,878.9 238.1,878.9 238.6,878.9 239.1,878.8 239.6,878.8 240.1,878.7 240.6,878.6 241.1,878.4 241.6,878.3 242.1,878.1 242.6,877.9 243.1,877.7 243.6,877.4 244.1,877.2 244.6,877.0 245.1,876.7 245.6,876.5 246.1,876.4 246.6,876.3 247.1,876.2 247.6,876.2 248.1,876.3 248.6,876.4 249.1,876.5 249.6,876.7 250.1,876.9 250.6,877.2 251.1,877.4 251.6,877.6 252.1,877.9 252.6,878.1 253.1,878.3 253.6,878.4 254.1,878.6 254.6,878.7 255.1,878.8 255.6,878.8 256.1,878.9 256.6,878.9 257.1,878.9 257.6,879.0 258.1,879.0 258.6,879.0 259.1,879.0 259.6,879.0 260.1,879.0 260.6,879.0 261.1,879.0 261.6,879.0 262.1,879.0 262.6,879.0 263.1,878.9 263.6,878.9 264.1,878.9 264.6,878.9 265.1,878.9 265.6,878.8 266.1,878.8 266.6,878.8 267.1,878.7 267.6,878.7 268.1,878.6 268.6,878.6 269.1,878.5 269.6,878.5 270.1,878.5 270.6,878.4 271.1,878.4 271.6,878.4 272.1,878.4 272.6,878.4 273.1,878.4 273.6,878.4 274.1,878.4 274.6,878.4 275.1,878.4 275.6,878.4 276.1,878.4 276.6,878.4 277.1,878.4 277.6,878.4 278.1,878.4 278.6,878.4 279.1,878.3 279.6,878.3 280.1,878.2 280.6,878.2 281.1,878.1 281.6,878.1 282.1,878.1 282.6,878.1 283.1,878.1 283.6,878.1 284.1,878.1 284.6,878.1 285.1,878.2 285.6,878.2 286.1,878.2 286.6,878.3 287.1,878.3 287.6,878.3 288.1,878.3 288.6,878.3 289.1,878.3 289.6,878.3 290.1,878.2 290.6,878.2 291.1,878.2 291.6,878.2 292.1,878.2 292.6,878.2 293.1,878.3 293.6,878.3 294.1,878.3 294.6,878.3 295.1,878.4 295.6,878.4 296.1,878.4 296.6,878.4 297.1,878.3 297.6,878.3 298.1,878.3 298.6,878.2 299.1,878.2 299.6,878.2 300.1,878.2 300.6,878.2 301.1,878.2 301.6,878.3 302.1,878.4 302.6,878.4 303.1,878.5 303.6,878.6 304.1,878.7 304.6,878.8 305.1,878.8 305.6,878.9 306.1,878.9 306.6,878.9 307.1,879.0 307.6,879.0 308.1,879.0 308.6,879.0 309.1,879.0 309.6,879.0 310.1,879.0 310.6,879.0 311.1,879.0 311.6,879.0 312.1,879.0 312.6,879.0 313.1,879.0 313.6,879.0 314.1,879.0 314.6,879.0 315.1,879.0 315.6,879.0 316.1,879.0 316.6,879.0 317.1,879.0 317.6,879.0 318.1,879.0 318.6,879.0 319.1,879.0 319.6,879.0 320.1,879.0 320.6,879.0 321.1,879.0" fill="none" stroke="#5a80c4" stroke-width="2.2" stroke-linejoin="miter" stroke-linejoin="round"/>
<line x1="81.5" y1="719" x2="106.9" y2="719" stroke="#dd5f5c" stroke-width="2" />
<line x1="81.5" y1="735.9" x2="106.9" y2="735.9" stroke="#5a80c4" stroke-width="2" />
<text x="110.9" y="722.8" font-size="12.1" text-anchor="start" font-weight="normal" fill="#1a1a1a" >DC</text>
<text x="110.9" y="739.5" font-size="12.1" text-anchor="start" font-weight="normal" fill="#1a1a1a" >ARC</text>
<text x="206.3" y="719.1" font-size="12" text-anchor="middle" font-weight="normal" fill="#1a1a1a" >12,13-DHOME</text>
<text x="132.3" y="778" font-size="12" text-anchor="middle" font-weight="normal" fill="#1a1a1a" >9,10-DHOME</text>
<line x1="238.9" y1="734.7" x2="228.29759095226146" y2="726.2323041833497" stroke="#231815" stroke-width="1.8" />
<path d="M224,722.8 L229.9201347480268,724.2007157331898 L226.6750471564961,728.2638926335096 Z" fill="#231815"/>
<line x1="154.4" y1="796.4" x2="145.2188874109537" y2="787.3590570688017" stroke="#231815" stroke-width="1.8" />
<path d="M141.3,783.5 L147.04316893438724,785.5064921108963 L143.39460588752016,789.2116220267071 Z" fill="#231815"/>
<text x="160.2" y="806" font-size="12.1" text-anchor="middle" font-weight="normal" fill="#1a1a1a" >a</text>
<text x="182.4" y="867.9" font-size="12.1" text-anchor="middle" font-weight="normal" fill="#1a1a1a" >b</text>
<text x="207.7" y="862.7" font-size="12.1" text-anchor="middle" font-weight="normal" fill="#1a1a1a" >c</text>
<text x="225.1" y="862.7" font-size="12.1" text-anchor="middle" font-weight="normal" fill="#1a1a1a" >d</text>
<text x="245.8" y="740.9" font-size="12.1" text-anchor="middle" font-weight="normal" fill="#1a1a1a" >e</text>
<rect x="405" y="707.8" width="264.5" height="176.10000000000002" fill="none" stroke="#333" stroke-width="1.6"/>
<line x1="397.2" y1="883.9" x2="405" y2="883.9" stroke="#333" stroke-width="1.6" />
<text x="393.8" y="887.1999999999999" font-size="12" text-anchor="end" font-weight="normal" fill="#1a1a1a" >0</text>
<line x1="397.2" y1="858.7428571428571" x2="405" y2="858.7428571428571" stroke="#333" stroke-width="1.6" />
<text x="393.8" y="862.0428571428571" font-size="12" text-anchor="end" font-weight="normal" fill="#1a1a1a" >1</text>
<line x1="397.2" y1="833.5857142857143" x2="405" y2="833.5857142857143" stroke="#333" stroke-width="1.6" />
<text x="393.8" y="836.8857142857142" font-size="12" text-anchor="end" font-weight="normal" fill="#1a1a1a" >2</text>
<line x1="397.2" y1="808.4285714285714" x2="405" y2="808.4285714285714" stroke="#333" stroke-width="1.6" />
<text x="393.8" y="811.7285714285714" font-size="12" text-anchor="end" font-weight="normal" fill="#1a1a1a" >3</text>
<line x1="397.2" y1="783.2714285714285" x2="405" y2="783.2714285714285" stroke="#333" stroke-width="1.6" />
<text x="393.8" y="786.5714285714284" font-size="12" text-anchor="end" font-weight="normal" fill="#1a1a1a" >4</text>
<line x1="397.2" y1="758.1142857142856" x2="405" y2="758.1142857142856" stroke="#333" stroke-width="1.6" />
<text x="393.8" y="761.4142857142856" font-size="12" text-anchor="end" font-weight="normal" fill="#1a1a1a" >5</text>
<line x1="397.2" y1="732.9571428571428" x2="405" y2="732.9571428571428" stroke="#333" stroke-width="1.6" />
<text x="393.8" y="736.2571428571428" font-size="12" text-anchor="end" font-weight="normal" fill="#1a1a1a" >6</text>
<line x1="397.2" y1="707.8" x2="405" y2="707.8" stroke="#333" stroke-width="1.6" />
<text x="393.8" y="711.0999999999999" font-size="12" text-anchor="end" font-weight="normal" fill="#1a1a1a" >7</text>
<rect x="431.6" y="850.6" width="52.4" height="33.299999999999955" fill="#9a98ca"/>
<rect x="510.2" y="750" width="52.9" height="133.89999999999998" fill="#a3cbca"/>
<rect x="589.7" y="802" width="52.4" height="81.89999999999998" fill="#d3dbc6"/>
<line x1="457.8" y1="883.9" x2="457.8" y2="891.4" stroke="#333" stroke-width="1.6" />
<text x="454.9" y="906.8" font-size="12" text-anchor="middle" font-weight="normal" fill="#1a1a1a" >m/z 337.2</text>
<line x1="536.4" y1="883.9" x2="536.4" y2="891.4" stroke="#333" stroke-width="1.6" />
<text x="531.4" y="906.8" font-size="12" text-anchor="middle" font-weight="normal" fill="#1a1a1a" >12,13-DHOME</text>
<line x1="615.5" y1="883.9" x2="615.5" y2="891.4" stroke="#333" stroke-width="1.6" />
<text x="619.2" y="906.8" font-size="12" text-anchor="middle" font-weight="normal" fill="#1a1a1a" >9,10-DHOME</text>
<text x="0" y="0" font-size="12.3" text-anchor="middle" fill="#1a1a1a" transform="translate(377.9,797.7) rotate(-90)">Log2(FC)</text>
<text x="576.5" y="731.1" font-size="12.05" text-anchor="middle" font-weight="normal" fill="#1a1a1a" >LC-MS features</text>
<line x1="529.7" y1="735.4" x2="626.4" y2="735.4" stroke="#4a3c3c" stroke-width="1.8" />
<text x="456.2" y="835.2" font-size="12" text-anchor="middle" font-weight="normal" fill="#1a1a1a" >LDI-MS feature</text>
</svg></body></html>
